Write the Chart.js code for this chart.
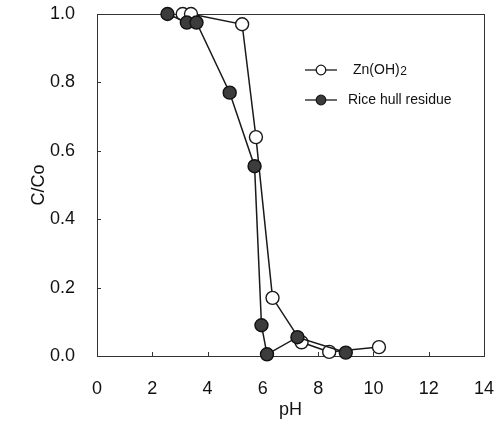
<!DOCTYPE html>
<html>
<head>
<meta charset="utf-8">
<script src="https://cdn.jsdelivr.net/npm/chart.js@4"></script>
<style>
    body { margin: 0; background: #fff; }
    #chart { display: block; }
</style>
</head>
<body>
<canvas id="chart" width="498" height="426"></canvas>
<script>
// Zn(OH)2 precipitation
const znPH = [3.1, 3.4, 5.25, 5.75, 6.35, 7.4, 8.4, 10.2];
const znC = [1.0, 1.0, 0.97, 0.64, 0.17, 0.04, 0.012, 0.026];

// rice hull residue
const ricePH = [2.55, 3.25, 3.6, 4.8, 5.7, 5.95, 6.15, 7.25, 9.0];
const riceC = [1.0, 0.975, 0.975, 0.77, 0.555, 0.09, 0.005, 0.055, 0.01];

const xTicks = [0, 2, 4, 6, 8, 10, 12, 14];
const yTicks = [0.0, 0.2, 0.4, 0.6, 0.8, 1.0];

const seriesLabels = ['Zn(OH)2', 'Rice hull residue'];

function toPoints(xs, ys) {
    return xs.map((x, i) => ({ x: x, y: ys[i] }));
}

const ink = '#1a1a1a';
const fontName = '"Liberation Sans", Arial, sans-serif';

// fixed box sizes so the plot area stays where we want it
function fixBox(scale, size) {
    if (scale.isHorizontal()) {
        scale.height = size;
    } else {
        scale.width = size;
    }
    scale.paddingTop = 0;
    scale.paddingBottom = 0;
    scale.paddingLeft = 0;
    scale.paddingRight = 0;
}

// box around the plot plus small inward ticks
const framePlugin = {
    id: 'frame',
    beforeDatasetsDraw(chart) {
        const { ctx, chartArea: a, scales } = chart;
        ctx.save();
        ctx.strokeStyle = '#333';
        ctx.lineWidth = 1;
        ctx.strokeRect(a.left + 0.5, a.top + 0.5, a.right - a.left, a.bottom - a.top);
        ctx.beginPath();
        xTicks.forEach(v => {
            const px = Math.round(scales.x.getPixelForValue(v)) + 0.5;
            ctx.moveTo(px, a.bottom);
            ctx.lineTo(px, a.bottom - 4);
        });
        yTicks.forEach(v => {
            const py = Math.round(scales.y.getPixelForValue(v)) + 0.5;
            ctx.moveTo(a.left, py);
            ctx.lineTo(a.left + 4, py);
        });
        ctx.stroke();
        ctx.restore();
    }
};

// legend in the upper right: short line with marker, then the name
const legendPlugin = {
    id: 'insideLegend',
    afterDraw(chart) {
        const { ctx, chartArea: a } = chart;
        const rows = [0, 1];
        ctx.save();
        rows.forEach(i => {
            const ds = chart.data.datasets[i];
            const y = a.top + 56 + i * 30;
            const x0 = a.left + 208;
            ctx.strokeStyle = ink;
            ctx.lineWidth = 1.3;
            ctx.beginPath();
            ctx.moveTo(x0, y);
            ctx.lineTo(x0 + 32, y);
            ctx.stroke();
            ctx.beginPath();
            ctx.arc(x0 + 16, y, 4.8, 0, Math.PI * 2);
            ctx.fillStyle = ds.backgroundColor;
            ctx.fill();
            ctx.stroke();

            ctx.fillStyle = '#111';
            ctx.textBaseline = 'middle';
            ctx.textAlign = 'left';
            ctx.font = '14px ' + fontName;
            const tx = x0 + (i === 0 ? 48 : 43);
            if (i === 0) {
                // subscript-like "2"
                const base = ds.label.slice(0, -1);
                ctx.fillText(base, tx, y);
                const w = ctx.measureText(base).width;
                ctx.font = '12px ' + fontName;
                ctx.fillText(ds.label.slice(-1), tx + w + 0.5, y + 1.5);
            } else {
                ctx.fillText(ds.label, tx, y);
            }
        });
        ctx.restore();
    }
};

const ctx = document.getElementById('chart');
new Chart(ctx, {
    type: 'scatter',
    data: {
        datasets: [
            {
                label: seriesLabels[0],
                data: toPoints(znPH, znC),
                showLine: true,
                borderColor: ink,
                borderWidth: 1.5,
                backgroundColor: '#ffffff',
                pointBackgroundColor: '#ffffff',
                pointBorderColor: ink,
                pointBorderWidth: 1.4,
                pointRadius: 6.5,
                clip: false,
                order: 1
            },
            {
                label: seriesLabels[1],
                data: toPoints(ricePH, riceC),
                showLine: true,
                borderColor: ink,
                borderWidth: 1.5,
                backgroundColor: '#3c3c3c',
                pointBackgroundColor: '#3c3c3c',
                pointBorderColor: '#111',
                pointBorderWidth: 1.4,
                pointRadius: 6.5,
                clip: false,
                order: 0
            }
        ]
    },
    options: {
        responsive: false,
        animation: false,
        devicePixelRatio: 1,
        layout: { padding: { top: 14, right: 14, left: 0, bottom: 0 } },
        plugins: {
            legend: { display: false },
            tooltip: { enabled: false }
        },
        scales: {
            x: {
                type: 'linear',
                min: 0,
                max: 14,
                afterBuildTicks: scale => { scale.ticks = xTicks.map(v => ({ value: v })); },
                afterFit: scale => fixBox(scale, 70),
                grid: { display: false, drawTicks: false },
                border: { display: false },
                ticks: {
                    color: '#111',
                    padding: 22,
                    maxRotation: 0,
                    font: { family: fontName, size: 18 },
                    callback: v => String(v)
                },
                title: {
                    display: true,
                    text: 'pH',
                    color: '#111',
                    padding: { top: 0, bottom: 5 },
                    font: { family: fontName, size: 18 }
                }
            },
            y: {
                type: 'linear',
                min: 0,
                max: 1,
                afterBuildTicks: scale => { scale.ticks = yTicks.map(v => ({ value: v })); },
                afterFit: scale => fixBox(scale, 97),
                grid: { display: false, drawTicks: false },
                border: { display: false },
                ticks: {
                    color: '#111',
                    padding: 22,
                    font: { family: fontName, size: 18 },
                    callback: v => v.toFixed(1)
                },
                title: {
                    display: true,
                    text: 'C/Co',
                    color: '#111',
                    padding: { top: 28, bottom: 0 },
                    font: { family: fontName, size: 18 }
                }
            }
        }
    },
    plugins: [framePlugin, legendPlugin]
});
</script>
</body>
</html>
